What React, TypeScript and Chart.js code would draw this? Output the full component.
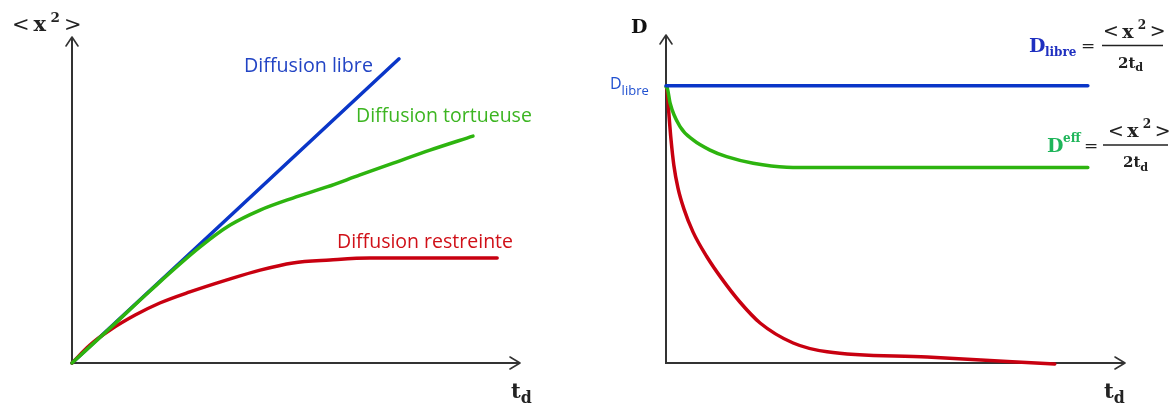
import React, { useEffect, useRef } from "react";
import { Chart, registerables } from "chart.js";
Chart.register(...registerables);

// ---- Left panel: <x²> versus t_d ----
const libreT = [0, 7.3];
const libreX2 = [0, 9.33];
const tortT = [0, 0.85, 1.74, 2.86, 3.53, 4.2, 4.93, 5.69, 6.43, 7.17, 7.99, 8.95];
const tortX2 = [0, 1.07, 2.21, 3.56, 4.23, 4.69, 5.06, 5.4, 5.77, 6.13, 6.53, 6.96];
const restT = [0, 0.4, 0.85, 1.41, 1.96, 2.63, 3.46, 4.2, 4.93, 5.76, 6.65, 9.49];
const restX2 = [0, 0.55, 1.01, 1.47, 1.84, 2.18, 2.55, 2.85, 3.07, 3.16, 3.22, 3.22];

// ---- Right panel: D versus t_d ----
const dLibreT = [0, 9.19];
const dLibreD = [8.45, 8.45];
const dEffT = [0, 0.03, 0.09, 0.31, 0.59, 0.96, 1.32, 1.9, 2.63, 3.36, 9.19];
const dEffD = [8.42, 8.37, 7.92, 7.2, 6.8, 6.49, 6.29, 6.09, 5.97, 5.96, 5.96];
const dRestT = [0.02, 0.065, 0.11, 0.17, 0.26, 0.39, 0.59, 0.89, 1.21, 1.61, 2.05, 2.77, 3.51, 5.69, 8.47];
const dRestD = [8.42, 7.56, 6.8, 6.04, 5.34, 4.7, 3.99, 3.24, 2.58, 1.86, 1.22, 0.61, 0.34, 0.18, -0.03];

// ---- Text ----
const labelLibre = "Diffusion libre";
const labelTort = "Diffusion tortueuse";
const labelRest = "Diffusion restreinte";

const BLUE_LINE = "#0a36c8";
const GREEN_LINE = "#2db40f";
const RED_LINE = "#c80010";

const pts = (xs: number[], ys: number[]) => xs.map((x, i) => ({ x, y: ys[i] }));

const SERIF = "'DejaVu Serif'";
const SANS = "'Open Sans'";

function drawAxes(chart: any) {
  const { ctx, chartArea } = chart;
  const { left, right, top, bottom } = chartArea;
  ctx.save();
  ctx.strokeStyle = "#333";
  ctx.lineWidth = 2;
  ctx.beginPath();
  ctx.moveTo(left, top + 1);
  ctx.lineTo(left, bottom);
  ctx.lineTo(right - 1, bottom);
  ctx.stroke();
  ctx.lineWidth = 1.6;
  ctx.lineCap = "round";
  ctx.lineJoin = "round";
  ctx.beginPath();
  ctx.moveTo(left - 6, top + 9);
  ctx.lineTo(left, top);
  ctx.lineTo(left + 6, top + 9);
  ctx.moveTo(right - 10, bottom - 6);
  ctx.lineTo(right, bottom);
  ctx.lineTo(right - 10, bottom + 6);
  ctx.stroke();
  ctx.restore();
}

function fitText(ctx: CanvasRenderingContext2D, text: string, x: number, y: number, width: number, color: string, base: number) {
  ctx.font = `${base}px ${SANS}`;
  const w = ctx.measureText(text).width;
  const size = (base * width) / w;
  ctx.font = `${size}px ${SANS}`;
  ctx.fillStyle = color;
  ctx.fillText(text, x, y);
}

function drawX2(ctx: CanvasRenderingContext2D, x: number, y: number, s: number, color: string) {
  const k = s / 20;
  ctx.fillStyle = color;
  ctx.font = `${21 * k}px ${SERIF}`;
  ctx.fillText("<", x, y - 0.5 * k);
  ctx.font = `bold ${21 * k}px ${SERIF}`;
  ctx.fillText("x", x + 21.5 * k, y);
  ctx.font = `bold ${13.5 * k}px ${SERIF}`;
  ctx.fillText("2", x + 38.5 * k, y - 9.5 * k);
  ctx.font = `${21 * k}px ${SERIF}`;
  ctx.fillText(">", x + 52 * k, y - 0.5 * k);
}

function drawTd(ctx: CanvasRenderingContext2D, x: number, y: number, s: number, color: string) {
  const k = s / 20;
  ctx.fillStyle = color;
  ctx.font = `bold ${20 * k}px ${SERIF}`;
  ctx.fillText("t", x, y);
  const w = ctx.measureText("t").width;
  ctx.font = `bold ${15 * k}px ${SERIF}`;
  ctx.fillText("d", x + w, y + 5 * k);
}

function drawFraction(ctx: CanvasRenderingContext2D, lineX: number, lineY: number, lineW: number, numX: number, denX: number) {
  ctx.save();
  ctx.strokeStyle = "#222";
  ctx.lineWidth = 1.5;
  ctx.beginPath();
  ctx.moveTo(lineX, lineY);
  ctx.lineTo(lineX + lineW, lineY);
  ctx.stroke();
  drawX2(ctx, numX, lineY - 8, 18, "#222");
  ctx.fillStyle = "#222";
  ctx.font = `bold 15px ${SERIF}`;
  ctx.fillText("2", denX, lineY + 22);
  const w2 = ctx.measureText("2").width;
  drawTd(ctx, denX + w2, lineY + 22, 15, "#222");
  ctx.restore();
}

const leftText = {
  id: "leftText",
  beforeDatasetsDraw(chart: any) {
    drawAxes(chart);
  },
  afterDraw(chart: any) {
    const ctx: CanvasRenderingContext2D = chart.ctx;
    ctx.save();
    ctx.textBaseline = "alphabetic";
    drawX2(ctx, 12, 31, 20, "#222");
    drawTd(ctx, 511, 398, 21, "#222");
    fitText(ctx, labelLibre, 244, 72, 129, "#2244c4", 19);
    fitText(ctx, labelTort, 356, 122, 176, "#3cb521", 19);
    fitText(ctx, labelRest, 337, 248, 176, "#d01018", 19);
    ctx.restore();
  },
};

const OX = 590; // left offset of right canvas

const rightText = {
  id: "rightText",
  beforeDatasetsDraw(chart: any) {
    drawAxes(chart);
  },
  afterDraw(chart: any) {
    const ctx: CanvasRenderingContext2D = chart.ctx;
    ctx.save();
    ctx.textBaseline = "alphabetic";
    // axis label D
    ctx.fillStyle = "#111";
    ctx.font = `bold 19px ${SERIF}`;
    ctx.fillText("D", 631 - OX, 33);
    drawTd(ctx, 1104 - OX, 398, 21, "#222");
    // D_libre tick label
    ctx.fillStyle = "#2050d0";
    ctx.font = `16px ${SANS}`;
    ctx.fillText("D", 610 - OX, 89);
    const wD = ctx.measureText("D").width;
    ctx.font = `13px ${SANS}`;
    ctx.fillText("libre", 610 - OX + wD, 95);

    // Formula D_libre = <x²>/2t_d
    ctx.fillStyle = "#1f30c0";
    ctx.font = `bold 19px ${SERIF}`;
    ctx.fillText("D", 1029 - OX, 52);
    ctx.font = `bold 12px ${SERIF}`;
    ctx.fillText("libre", 1045 - OX, 56);
    ctx.fillStyle = "#222";
    ctx.font = `17px ${SERIF}`;
    ctx.fillText("=", 1081 - OX, 51);
    drawFraction(ctx, 1102 - OX, 45.5, 61, 1103 - OX, 1118 - OX);

    // Formula D^eff = <x²>/2t_d
    ctx.fillStyle = "#1fb55a";
    ctx.font = `bold 19px ${SERIF}`;
    ctx.fillText("D", 1047 - OX, 152);
    ctx.font = `bold 12px ${SERIF}`;
    ctx.fillText("eff", 1063 - OX, 142);
    ctx.fillStyle = "#222";
    ctx.font = `17px ${SERIF}`;
    ctx.fillText("=", 1084 - OX, 151);
    drawFraction(ctx, 1103 - OX, 145, 65, 1108 - OX, 1123 - OX);
    ctx.restore();
  },
};

const lineDs = (data: any[], color: string) => ({
  data,
  borderColor: color,
  borderWidth: 3.5,
  pointRadius: 0,
  fill: false,
  cubicInterpolationMode: "monotone" as const,
  borderCapStyle: "round" as const,
  clip: false as any,
});

const makeOptions = (padding: any) => ({
  responsive: false,
  animation: false as const,
  events: [] as any[],
  layout: { padding },
  plugins: { legend: { display: false }, tooltip: { enabled: false } },
  scales: {
    x: { type: "linear" as const, display: false, min: 0, max: 10 },
    y: { type: "linear" as const, display: false, min: 0, max: 10 },
  },
});

export default function App() {
  const leftRef = useRef<HTMLCanvasElement>(null);
  const rightRef = useRef<HTMLCanvasElement>(null);

  useEffect(() => {
    const c1 = new Chart(leftRef.current!, {
      type: "line",
      data: {
        datasets: [
          lineDs(pts(tortT, tortX2), GREEN_LINE),
          lineDs(pts(restT, restX2), RED_LINE),
          lineDs(pts(libreT, libreX2), BLUE_LINE),
        ],
      },
      options: makeOptions({ left: 72, right: 70, top: 37, bottom: 42 }) as any,
      plugins: [leftText],
    });
    const c2 = new Chart(rightRef.current!, {
      type: "line",
      data: {
        datasets: [
          lineDs(pts(dLibreT, dLibreD), BLUE_LINE),
          lineDs(pts(dEffT, dEffD), GREEN_LINE),
          lineDs(pts(dRestT, dRestD), RED_LINE),
        ],
      },
      options: makeOptions({ left: 76, right: 50, top: 35, bottom: 42 }) as any,
      plugins: [rightText],
    });
    return () => {
      c1.destroy();
      c2.destroy();
    };
  }, []);

  return (
    <div style={{ position: "absolute", left: 0, top: 0, width: 1175, height: 405, background: "#fff" }}>
      <canvas ref={leftRef} width={590} height={405} style={{ position: "absolute", left: 0, top: 0, display: "block" }} />
      <canvas ref={rightRef} width={585} height={405} style={{ position: "absolute", left: 590, top: 0, display: "block" }} />
    </div>
  );
}
